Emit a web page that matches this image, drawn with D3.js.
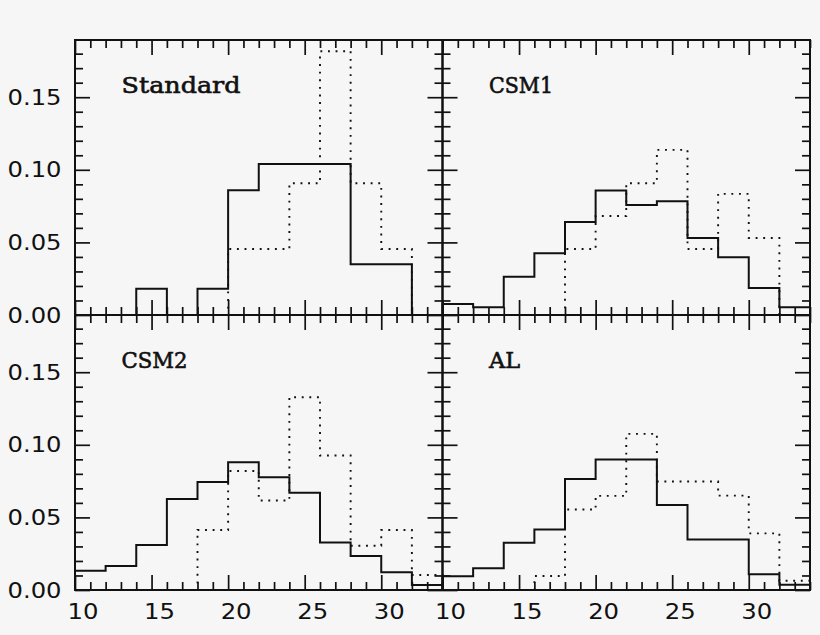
<!DOCTYPE html>
<html><head><meta charset="utf-8">
<script src="https://cdn.jsdelivr.net/npm/d3@7"></script>
<style>
html,body{margin:0;padding:0;background:#f6f6f6;}
svg{display:block;}
</style></head>
<body>
<script>
// ---- data ----
const panelNames = ["Standard", "CSM1", "CSM2", "AL"];
const binEdges = [10, 12, 14, 16, 18, 20, 22, 24, 26, 28, 30, 32, 34];
const xTickLabels = [10, 15, 20, 25, 30];
const yTickLabels = ["0.00", "0.05", "0.10", "0.15"];
const yTickValues = [0, 0.05, 0.10, 0.15];

const standardSolid  = [0, 0, 0.018, 0, 0.018, 0.086, 0.104, 0.104, 0.104, 0.035, 0.035, 0];
const standardDotted = [0, 0, 0, 0, 0, 0.0455, 0.0455, 0.0907, 0.1817, 0.0907, 0.0455, 0];
const csm1Solid  = [0.0076, 0.0053, 0.0264, 0.0425, 0.064, 0.0857, 0.0758, 0.0783, 0.053, 0.0397, 0.0186, 0.0053];
const csm1Dotted = [0, 0, 0, 0, 0.0455, 0.0682, 0.0907, 0.1137, 0.0455, 0.0834, 0.053, 0];
const csm2Solid  = [0.0133, 0.0165, 0.031, 0.0627, 0.0744, 0.088, 0.0776, 0.067, 0.0328, 0.0234, 0.0122, 0.0034];
const csm2Dotted = [0, 0, 0, 0, 0.0413, 0.082, 0.0616, 0.1328, 0.0926, 0.0305, 0.0413, 0.0103];
const alSolid  = [0.0094, 0.0149, 0.0326, 0.0416, 0.0765, 0.0898, 0.0898, 0.0586, 0.0347, 0.0347, 0.0108, 0.0037];
const alDotted = [0, 0, 0, 0.0096, 0.0554, 0.0648, 0.1075, 0.0747, 0.0747, 0.065, 0.039, 0.0064];

const solidSeries  = [standardSolid, csm1Solid, csm2Solid, alSolid];
const dottedSeries = [standardDotted, csm1Dotted, csm2Dotted, alDotted];

// ---- layout ----
const W = 820, H = 635;
const mLeft = 75, mRight = 810, mTop = 40, mBottom = 590;
const pw = (mRight - mLeft) / 2, ph = (mBottom - mTop) / 2;
const xDomain = [10, 34], yDomain = [0, 0.1894];
const majorLen = 15, minorLen = 8;
const labelWidths = [119, 64, 66, 31];

const svg = d3.select("body").append("svg").attr("width", W).attr("height", H);

const x = d3.scaleLinear().domain(xDomain).range([0, pw]);
const y = d3.scaleLinear().domain(yDomain).range([ph, 0]);

const xMinor = d3.range(10, 35, 1).filter(v => v % 5 !== 0);
const xMajor = d3.range(10, 35, 5);
const yMinor = d3.range(0, 19).filter(i => i % 5 !== 0).map(i => i / 100);
const yMajor = yTickValues;

function stepPoints(vals) {
  const pts = [[binEdges[0], 0]];
  vals.forEach((v, i) => { pts.push([binEdges[i], v]); pts.push([binEdges[i + 1], v]); });
  pts.push([binEdges[binEdges.length - 1], 0]);
  return pts;
}
const line = d3.line().x(d => x(d[0])).y(d => y(d[1]));

panelNames.forEach((name, k) => {
  const col = k % 2, row = Math.floor(k / 2);
  const g = svg.append("g").attr("transform", `translate(${mLeft + col * pw},${mTop + row * ph})`);

  // histograms
  g.append("path").attr("d", line(stepPoints(dottedSeries[k])))
    .attr("fill", "none").attr("stroke", "#111").attr("stroke-width", 1.9)
    .attr("stroke-dasharray", "1.9,5.7");
  g.append("path").attr("d", line(stepPoints(solidSeries[k])))
    .attr("fill", "none").attr("stroke", "#111").attr("stroke-width", 2);

  // ticks (inward on all four sides)
  const addAxis = (axis, tr) => {
    const a = g.append("g").attr("transform", tr).call(axis);
    a.select(".domain").remove();
    a.selectAll("text").remove();
    a.selectAll("line").attr("stroke", "#111").attr("stroke-width", 1.7);
  };
  addAxis(d3.axisBottom(x).tickValues(xMinor).tickSize(-minorLen), `translate(0,${ph})`);
  addAxis(d3.axisBottom(x).tickValues(xMajor).tickSize(-majorLen), `translate(0,${ph})`);
  addAxis(d3.axisTop(x).tickValues(xMinor).tickSize(-minorLen), `translate(0,0)`);
  addAxis(d3.axisTop(x).tickValues(xMajor).tickSize(-majorLen), `translate(0,0)`);
  addAxis(d3.axisLeft(y).tickValues(yMinor).tickSize(-minorLen), `translate(0,0)`);
  addAxis(d3.axisLeft(y).tickValues(yMajor).tickSize(-majorLen), `translate(0,0)`);
  addAxis(d3.axisRight(y).tickValues(yMinor).tickSize(-minorLen), `translate(${pw},0)`);
  addAxis(d3.axisRight(y).tickValues(yMajor).tickSize(-majorLen), `translate(${pw},0)`);

  // frame
  g.append("rect").attr("x", 0).attr("y", 0).attr("width", pw).attr("height", ph)
    .attr("fill", "none").attr("stroke", "#111").attr("stroke-width", 2);

  // panel label
  g.append("text").attr("x", 46.5).attr("y", 52.5).text(name)
    .attr("font-family", "DejaVu Serif")
    .attr("font-size", 22).attr("fill", "#111")
    .attr("stroke", "#111").attr("stroke-width", 0.6)
    .attr("textLength", labelWidths[k]).attr("lengthAdjust", "spacingAndGlyphs");

  // tick labels
  if (col === 0) {
    yTickValues.forEach((v, i) => {
      g.append("text").attr("x", -13.5).attr("y", y(v)).attr("dy", "0.36em")
        .attr("text-anchor", "end").text(yTickLabels[i])
        .attr("font-family", "DejaVu Sans").attr("font-size", 21).attr("fill", "#111")
        .attr("textLength", 54).attr("lengthAdjust", "spacingAndGlyphs");
    });
  }
  if (row === 1) {
    xTickLabels.forEach(v => {
      g.append("text").attr("x", x(v) + 8).attr("y", ph + 28.5)
        .attr("text-anchor", "middle").text(v)
        .attr("font-family", "DejaVu Sans").attr("font-size", 21).attr("fill", "#111")
        .attr("textLength", 31).attr("lengthAdjust", "spacingAndGlyphs");
    });
  }
});
</script>
</body></html>
